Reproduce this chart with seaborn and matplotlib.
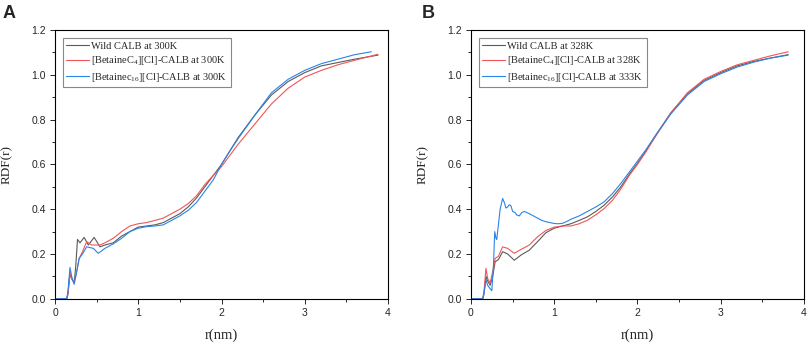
import numpy as np
import pandas as pd
import seaborn as sns
import matplotlib.pyplot as plt
from matplotlib.ticker import MultipleLocator

# data (r in nm, RDF values)
# panel A - 300K
r_wild_a = [0, 0.14, 0.155, 0.18, 0.2, 0.23, 0.25, 0.27, 0.3, 0.35, 0.4, 0.47, 0.54, 0.6, 0.7, 0.8, 0.9,
            1.0, 1.1, 1.2, 1.3, 1.4, 1.5, 1.6, 1.7, 1.8, 1.9, 2.0, 2.1, 2.2, 2.4, 2.6, 2.8, 3.0, 3.2,
            3.4, 3.6, 3.88]
rdf_wild_a = [0, 0, 0.02, 0.11, 0.09, 0.07, 0.15, 0.265, 0.25, 0.274, 0.24, 0.274, 0.232, 0.24, 0.25, 0.28,
              0.30, 0.32, 0.325, 0.33, 0.34, 0.36, 0.38, 0.41, 0.45, 0.50, 0.55, 0.60, 0.66, 0.72, 0.82,
              0.91, 0.97, 1.01, 1.04, 1.055, 1.07, 1.088]

r_c4_a = [0, 0.14, 0.155, 0.18, 0.2, 0.23, 0.26, 0.29, 0.33, 0.38, 0.44, 0.54, 0.6, 0.7, 0.8, 0.9, 1.0,
          1.1, 1.2, 1.3, 1.4, 1.5, 1.6, 1.7, 1.8, 1.9, 2.0, 2.1, 2.2, 2.4, 2.6, 2.8, 3.0, 3.2, 3.4, 3.6,
          3.88]
rdf_c4_a = [0, 0, 0.02, 0.12, 0.09, 0.07, 0.12, 0.18, 0.21, 0.255, 0.24, 0.24, 0.25, 0.27, 0.30, 0.325,
            0.335, 0.34, 0.35, 0.36, 0.38, 0.40, 0.425, 0.46, 0.51, 0.55, 0.59, 0.64, 0.69, 0.78, 0.87,
            0.94, 0.99, 1.02, 1.045, 1.065, 1.092]

r_c16_a = [0, 0.14, 0.155, 0.18, 0.2, 0.23, 0.26, 0.29, 0.33, 0.38, 0.46, 0.52, 0.6, 0.7, 0.8, 0.9, 1.0,
           1.1, 1.2, 1.3, 1.4, 1.5, 1.6, 1.7, 1.8, 1.9, 2.0, 2.1, 2.2, 2.4, 2.6, 2.8, 3.0, 3.2, 3.4, 3.6,
           3.8]
rdf_c16_a = [0, 0, 0.03, 0.14, 0.1, 0.065, 0.12, 0.18, 0.20, 0.232, 0.225, 0.203, 0.225, 0.245, 0.27,
             0.30, 0.315, 0.322, 0.325, 0.33, 0.35, 0.37, 0.395, 0.43, 0.48, 0.53, 0.60, 0.66, 0.715,
             0.82, 0.92, 0.98, 1.02, 1.05, 1.07, 1.09, 1.103]

# panel B - 328K / 333K
r_b = [0, 0.14, 0.155, 0.18, 0.2, 0.23, 0.26, 0.29, 0.33, 0.38, 0.44, 0.52, 0.6, 0.7, 0.8, 0.9, 1.0,
       1.1, 1.2, 1.3, 1.4, 1.5, 1.6, 1.7, 1.8, 1.9, 2.0, 2.1, 2.2, 2.4, 2.6, 2.8, 3.0, 3.2, 3.4, 3.6, 3.81]
rdf_wild_b = [0, 0, 0.02, 0.10, 0.08, 0.06, 0.10, 0.165, 0.175, 0.21, 0.20, 0.172, 0.195, 0.217, 0.255,
              0.295, 0.315, 0.325, 0.335, 0.35, 0.366, 0.39, 0.418, 0.455, 0.50, 0.555, 0.605, 0.66,
              0.72, 0.83, 0.915, 0.975, 1.01, 1.04, 1.06, 1.075, 1.09]
rdf_c4_b = [0, 0, 0.03, 0.136, 0.09, 0.07, 0.12, 0.18, 0.19, 0.232, 0.225, 0.203, 0.22, 0.24, 0.277,
            0.305, 0.32, 0.325, 0.325, 0.335, 0.351, 0.375, 0.403, 0.44, 0.49, 0.55, 0.60, 0.655, 0.715,
            0.83, 0.92, 0.98, 1.015, 1.045, 1.065, 1.085, 1.103]

r_c16_b = [0, 0.14, 0.155, 0.18, 0.2, 0.22, 0.25, 0.27, 0.285, 0.30, 0.31, 0.32, 0.35, 0.38, 0.40,
           0.42, 0.44, 0.46, 0.48, 0.50, 0.53, 0.55, 0.58, 0.61, 0.64, 0.67, 0.70, 0.75, 0.8, 0.85,
           0.9, 0.95, 1.0, 1.05, 1.1, 1.15, 1.2, 1.3, 1.4, 1.5, 1.6, 1.7, 1.8, 1.9, 2.0, 2.1, 2.2,
           2.4, 2.6, 2.8, 3.0, 3.2, 3.4, 3.6, 3.81]
rdf_c16_b = [0, 0, 0.02, 0.085, 0.06, 0.05, 0.036, 0.15, 0.30, 0.27, 0.265, 0.30, 0.40, 0.448, 0.43,
             0.405, 0.41, 0.42, 0.415, 0.39, 0.385, 0.374, 0.37, 0.385, 0.39, 0.385, 0.38, 0.37, 0.36,
             0.35, 0.344, 0.34, 0.336, 0.335, 0.337, 0.345, 0.355, 0.37, 0.39, 0.41, 0.433, 0.47,
             0.515, 0.565, 0.615, 0.665, 0.72, 0.825, 0.91, 0.97, 1.005, 1.035, 1.057, 1.075, 1.088]

labels_a = ["Wild CALB at 300K", "[BetaineC$_{4}$][Cl]-CALB at 300K", "[Betainec$_{16}$][Cl]-CALB at 300K"]
labels_b = ["Wild CALB at 328K", "[BetaineC$_{4}$][Cl]-CALB at 328K", "[Betainec$_{16}$][Cl]-CALB at 333K"]
colors = ["#5a5a5a", "#f25555", "#2a84e8"]

sns.set_style("ticks")
plt.rcParams['font.family'] = ['Liberation Sans', 'DejaVu Sans']
plt.rcParams['mathtext.fontset'] = 'custom'
plt.rcParams['mathtext.rm'] = 'Liberation Serif'
plt.rcParams['mathtext.it'] = 'Liberation Serif'
plt.rcParams['mathtext.default'] = 'rm'

fig = plt.figure(figsize=(8.09, 3.43), dpi=100)
ax_a = fig.add_axes([0.068, 0.129, 0.4116, 0.7834])
ax_b = fig.add_axes([0.5822, 0.129, 0.4116, 0.7834])

series_a = [(r_wild_a, rdf_wild_a), (r_c4_a, rdf_c4_a), (r_c16_a, rdf_c16_a)]
series_b = [(r_b, rdf_wild_b), (r_b, rdf_c4_b), (r_c16_b, rdf_c16_b)]

for ax, series, labels, letter in [(ax_a, series_a, labels_a, "A"), (ax_b, series_b, labels_b, "B")]:
    for (x, y), lab, col in zip(series, labels, colors):
        df = pd.DataFrame({"r": x, "rdf": y})
        sns.lineplot(data=df, x="r", y="rdf", ax=ax, color=col, linewidth=0.8, label=lab)
    ax.set_xlim(0, 4)
    ax.set_ylim(0, 1.2)
    ax.xaxis.set_major_locator(MultipleLocator(1))
    ax.xaxis.set_minor_locator(MultipleLocator(0.5))
    ax.yaxis.set_major_locator(MultipleLocator(0.2))
    ax.yaxis.set_minor_locator(MultipleLocator(0.1))
    ax.yaxis.set_major_formatter(plt.FormatStrFormatter('%.1f'))
    ax.tick_params(which='major', direction='out', length=3.5, width=0.7, labelsize=7.5, pad=3)
    ax.tick_params(which='minor', direction='out', length=2, width=0.7)
    for s in ax.spines.values():
        s.set_visible(True)
        s.set_linewidth(0.8)
        s.set_color('black')
    ax.set_xlabel("r(nm)", family='Liberation Serif', fontsize=10.5)
    ax.set_ylabel("RDF(r)", family='Liberation Serif', fontsize=9.5)
    ax.xaxis.set_label_coords(0.5, -0.112)
    ax.yaxis.set_label_coords(-0.125, 0.5)
    leg = ax.legend(loc='upper left', prop={'family': 'Liberation Serif', 'size': 7.5},
                    frameon=True, fancybox=False, edgecolor='#888888', framealpha=1,
                    handlelength=2.2, handletextpad=0.2, borderaxespad=0.8, labelspacing=0.35,
                    borderpad=0.3)
    leg.get_frame().set_linewidth(0.8)

fig.text(0.003, 0.985, "A", fontsize=13, fontweight='bold', va='top', ha='left')
fig.text(0.521, 0.985, "B", fontsize=13, fontweight='bold', va='top', ha='left')

fig.savefig("out.png", dpi=100)
